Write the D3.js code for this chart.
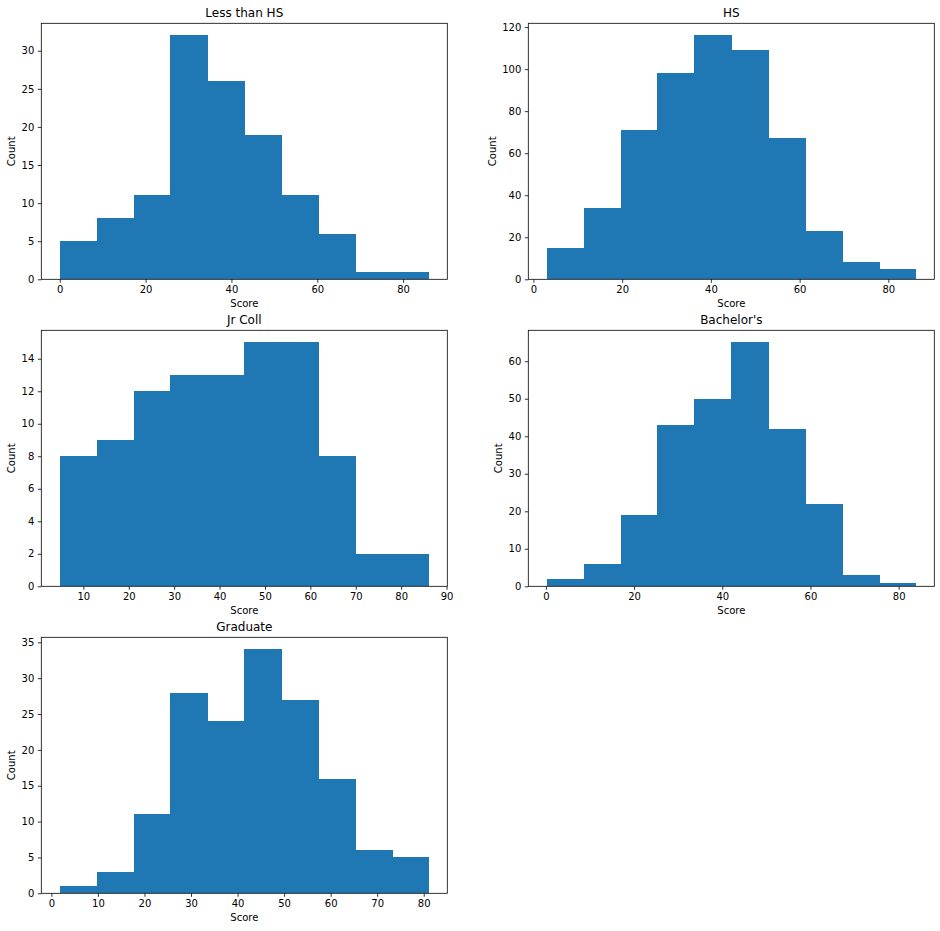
<!DOCTYPE html>
<html>
<head>
<meta charset="utf-8">
<script src="https://cdn.jsdelivr.net/npm/d3@7"></script>
<style>
  body { margin: 0; background: #fff; }
  svg { display: block; font-family: "DejaVu Sans", sans-serif; }
</style>
</head>
<body>
<svg id="chart" width="940" height="931"></svg>
<script>
// ---- Data ----
const titles = ["Less than HS", "HS", "Jr Coll", "Bachelor's", "Graduate"];
const countsLessHS   = [5, 8, 11, 32, 26, 19, 11, 6, 1, 1];
const countsHS       = [15, 34, 71, 98, 116, 109, 67, 23, 8, 5];
const countsJrColl   = [8, 9, 12, 13, 13, 15, 15, 8, 2, 2];
const countsBachelor = [2, 6, 19, 43, 50, 65, 42, 22, 3, 1];
const countsGraduate = [1, 3, 11, 28, 24, 34, 27, 16, 6, 5];
const scoreMin = [0, 3, 4.8, 0.2, 1.8];
const scoreMax = [86, 86.2, 86.1, 83.9, 81.1];
const xTicksLessHS   = [0, 20, 40, 60, 80];
const xTicksHS       = [0, 20, 40, 60, 80];
const xTicksJrColl   = [10, 20, 30, 40, 50, 60, 70, 80, 90];
const xTicksBachelor = [0, 20, 40, 60, 80];
const xTicksGraduate = [0, 10, 20, 30, 40, 50, 60, 70, 80];
const yTicksLessHS   = [0, 5, 10, 15, 20, 25, 30];
const yTicksHS       = [0, 20, 40, 60, 80, 100, 120];
const yTicksJrColl   = [0, 2, 4, 6, 8, 10, 12, 14];
const yTicksBachelor = [0, 10, 20, 30, 40, 50, 60];
const yTicksGraduate = [0, 5, 10, 15, 20, 25, 30, 35];

const allCounts = [countsLessHS, countsHS, countsJrColl, countsBachelor, countsGraduate];
const allXTicks = [xTicksLessHS, xTicksHS, xTicksJrColl, xTicksBachelor, xTicksGraduate];
const allYTicks = [yTicksLessHS, yTicksHS, yTicksJrColl, yTicksBachelor, yTicksGraduate];

// ---- Layout ----
const colLeft = [41.3, 528.3];
const rowTop = [23.3, 330.3, 637.3];
const W = 406, H = 256;
const barColor = "#1f77b4";

const svg = d3.select("#chart");
svg.append("rect").attr("width", 940).attr("height", 931).attr("fill", "#fff");

titles.forEach((title, i) => {
  const counts = allCounts[i];
  const nb = counts.length;
  const lo = scoreMin[i], hi = scoreMax[i];
  const r = hi - lo;
  const edges = d3.range(nb + 1).map(k => lo + k * r / nb);
  const bins = counts.map((c, k) => ({x0: edges[k], x1: edges[k + 1], c}));

  const x = d3.scaleLinear().domain([lo - 0.05 * r, hi + 0.05 * r]).range([0, W]);
  const y = d3.scaleLinear().domain([0, d3.max(counts) * 1.05]).range([H, 0]);

  const g = svg.append("g")
    .attr("transform", `translate(${colLeft[i % 2]},${rowTop[Math.floor(i / 2)]})`);

  g.selectAll("rect.bar").data(bins).join("rect")
    .attr("class", "bar")
    .attr("x", d => x(d.x0))
    .attr("width", d => x(d.x1) - x(d.x0) + 0.6)
    .attr("y", d => y(d.c))
    .attr("height", d => y(0) - y(d.c))
    .attr("fill", barColor)
    .attr("shape-rendering", "crispEdges");

  // axes
  const xAxis = g.append("g").attr("transform", `translate(0,${H})`)
    .call(d3.axisBottom(x).tickValues(allXTicks[i]).tickSize(3.5).tickPadding(3.5).tickFormat(d3.format("d")));
  const yAxis = g.append("g")
    .call(d3.axisLeft(y).tickValues(allYTicks[i]).tickSize(3.5).tickPadding(3.5).tickFormat(d3.format("d")));
  [xAxis, yAxis].forEach(a => {
    a.select(".domain").remove();
    a.selectAll(".tick line").attr("stroke", "#000").attr("stroke-width", 0.8);
    a.selectAll(".tick text").attr("fill", "#000").style("font-size", "10px")
      .style("font-family", "'DejaVu Sans', sans-serif");
  });

  // frame
  g.append("rect").attr("x", 0).attr("y", 0).attr("width", W).attr("height", H)
    .attr("fill", "none").attr("stroke", "#000").attr("stroke-width", 0.8);

  // title
  g.append("text").attr("x", W / 2).attr("y", -6.3).attr("text-anchor", "middle")
    .style("font-size", "12px").attr("fill", "#000").text(title);

  // x label
  g.append("text").attr("x", W / 2).attr("y", H + 28).attr("text-anchor", "middle")
    .style("font-size", "10px").attr("fill", "#000").text("Score");

  // y label placed left of tick labels
  const bb = yAxis.node().getBBox();
  const lx = bb.x - 6.5;
  g.append("text").attr("transform", `translate(${lx},${H / 2}) rotate(-90)`)
    .attr("text-anchor", "middle").style("font-size", "10px").attr("fill", "#000").text("Count");
});
</script>
</body>
</html>
